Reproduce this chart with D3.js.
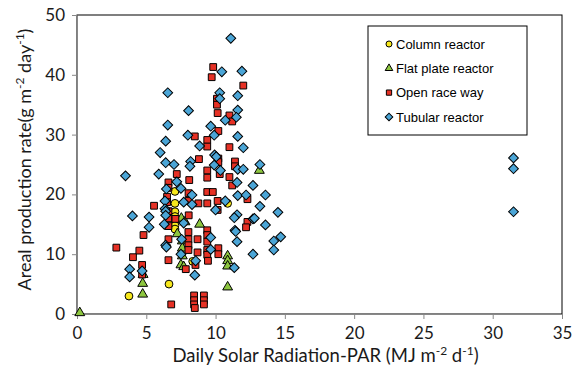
<!DOCTYPE html>
<html>
<head>
<meta charset="utf-8">
<script src="https://cdn.jsdelivr.net/npm/d3@7"></script>
<style>
  body { margin: 0; background: #fff; }
  .axis text { font-family: Lato, "Open Sans", sans-serif; font-size: 17px; fill: #1a1a1a; }
  .axis path, .axis line { stroke: #888; }
  .title { font-family: Lato, "Open Sans", sans-serif; fill: #1a1a1a; }
  .legend text { font-family: "Liberation Sans", Arial, sans-serif; font-size: 13px; fill: #000; }
</style>
</head>
<body>
<div id="chart"></div>
<script>
// series: [PAR, rate]
const columnReactor = [
  [7.07, 20.5], [7.07, 18.5], [7.07, 17.1], [7.07, 16.3], [7.07, 15.6], [7.07, 14.8],
  [7.07, 14.2], [6.64, 5.0], [3.75, 3.0], [8.35, 8.8], [10.87, 18.5]
];
const flatPlateReactor = [
  [0.2, 0.2], [4.74, 3.3], [4.74, 5.1], [4.77, 6.6], [7.53, 16.0], [7.8, 15.4], [8.85, 15.0],
  [7.24, 13.4], [7.6, 12.2], [7.6, 11.0], [7.6, 9.7], [7.5, 8.2], [7.7, 7.9],
  [10.87, 9.7], [10.87, 8.9], [10.87, 8.0], [10.87, 4.5], [13.16, 24.0]
];
const openRaceWay = [
  [9.83, 41.3], [9.72, 39.6], [12.0, 38.2], [10.1, 36.0], [10.1, 35.0], [10.15, 33.6],
  [11.0, 33.2], [11.2, 32.2], [10.2, 30.6], [8.5, 29.7], [9.4, 29.1], [9.4, 28.0],
  [11.0, 27.9], [8.8, 25.9], [10.2, 26.0], [10.2, 25.4], [11.4, 25.5], [11.4, 24.7],
  [7.2, 23.4], [9.4, 24.0], [9.4, 22.8], [10.3, 23.4], [11.0, 22.9], [11.2, 21.5],
  [6.6, 22.0], [8.1, 22.4], [6.6, 21.1], [6.5, 19.6], [6.5, 18.7], [8.05, 20.2],
  [8.05, 18.9], [9.4, 20.4], [9.8, 20.4], [8.76, 18.5], [9.4, 18.5], [10.15, 18.9],
  [10.15, 17.4], [5.56, 18.1], [8.06, 16.5], [12.3, 19.2], [12.3, 15.4], [12.2, 14.5],
  [9.4, 14.0], [9.4, 13.2], [9.4, 12.1], [8.04, 13.7], [8.04, 12.5], [8.7, 12.5],
  [6.6, 12.5], [6.6, 9.0], [8.7, 10.3], [9.4, 10.7], [9.4, 9.9], [9.45, 8.9],
  [10.2, 11.0], [10.2, 10.0], [7.85, 7.5], [8.55, 8.2], [8.45, 3.1], [8.45, 2.3],
  [8.45, 1.6], [8.5, 1.0], [9.16, 3.1], [9.16, 2.3], [9.16, 1.6], [6.8, 1.6],
  [6.6, 16.0], [7.1, 15.9], [6.6, 14.7], [8.04, 11.5], [8.04, 10.7], [2.84, 11.1],
  [4.04, 9.5], [4.5, 10.6], [4.8, 13.2], [4.7, 8.2], [4.7, 6.6], [6.6, 17.2]
];
const tubularReactor = [
  [11.1, 46.1], [10.45, 40.5], [11.9, 40.6], [6.55, 37.0], [10.3, 37.0], [11.6, 36.5],
  [10.3, 36.0], [8.05, 34.0], [11.6, 34.1], [10.7, 32.4], [11.5, 32.9], [6.55, 31.6],
  [9.65, 31.4], [8.0, 29.9], [9.9, 29.9], [6.4, 28.9], [11.6, 29.7], [8.85, 28.1],
  [12.0, 27.8], [6.0, 27.0], [6.4, 25.3], [7.0, 25.0], [8.2, 25.5], [8.15, 24.7],
  [9.93, 26.6], [10.05, 26.3], [9.9, 24.9], [10.35, 24.0], [11.6, 24.2], [12.0, 24.2],
  [13.2, 25.0], [5.9, 23.4], [7.2, 22.1], [7.5, 21.0], [6.45, 20.9], [11.55, 22.0],
  [12.7, 21.5], [13.6, 19.9], [8.3, 19.9], [11.6, 19.8], [12.2, 19.9], [10.7, 18.9],
  [7.7, 18.7], [6.35, 18.9], [8.3, 18.3], [13.2, 18.0], [14.5, 17.0], [10.0, 17.4],
  [11.55, 16.6], [11.35, 16.1], [12.7, 15.9], [13.6, 14.9], [7.7, 15.2], [11.4, 14.0],
  [11.45, 13.8], [11.55, 12.1], [14.7, 12.9], [14.2, 12.2], [14.2, 10.7], [12.7, 10.0],
  [9.65, 12.8], [9.65, 10.8], [7.55, 12.5], [6.4, 11.5], [6.45, 11.2], [7.5, 10.0],
  [8.56, 8.9], [8.5, 6.5], [11.35, 7.75], [6.35, 17.6], [6.4, 17.2], [6.4, 16.5],
  [6.3, 15.0], [5.2, 16.2], [5.2, 14.5], [4.0, 16.4], [3.5, 23.1], [3.8, 7.5],
  [3.8, 6.2], [4.7, 7.2], [12.8, 16.0], [31.5, 26.1], [31.5, 24.3], [31.5, 17.1]
];
const xTicks = [0, 5, 10, 15, 20, 25, 30, 35];
const yTicks = [0, 10, 20, 30, 40, 50];
const seriesNames = ['Column reactor', 'Flat plate reactor', 'Open race way', 'Tubular reactor'];

const width = 574, height = 373;
const margin = { top: 15, right: 12, bottom: 59, left: 77 };
const w = width - margin.left - margin.right;
const h = height - margin.top - margin.bottom;

const svg = d3.select('#chart').append('svg')
  .attr('width', width)
  .attr('height', height);

const chart = svg.append('g')
  .attr('transform', `translate(${margin.left},${margin.top})`);

const x = d3.scaleLinear().domain([0, 35]).range([0, w]);
const y = d3.scaleLinear().domain([0, 50]).range([h, 0]);

// plot frame
chart.append('rect')
  .attr('width', w).attr('height', h)
  .attr('fill', 'none').attr('stroke', '#000').attr('stroke-width', 1);

chart.append('g')
  .attr('class', 'x axis')
  .attr('transform', `translate(0,${h})`)
  .call(d3.axisBottom(x).tickValues(xTicks).tickSize(5).tickSizeOuter(0).tickPadding(5))
  .selectAll('text').attr('dy', '0.9em');

chart.append('g')
  .attr('class', 'y axis')
  .call(d3.axisLeft(y).tickValues(yTicks).tickSize(5).tickSizeOuter(0).tickPadding(7));

// marker styles
const series = [
  { name: seriesNames[0], data: columnReactor, type: d3.symbolCircle, size: 48, fill: '#F7E81C', rot: 0 },
  { name: seriesNames[1], data: flatPlateReactor, type: d3.symbolTriangle, size: 42, fill: '#8DC63F', rot: 0 },
  { name: seriesNames[2], data: openRaceWay, type: d3.symbolSquare, size: 46, fill: '#E63125', rot: 0 },
  { name: seriesNames[3], data: tubularReactor, type: d3.symbolSquare, size: 48, fill: '#4BA5D6', rot: 45 }
];

series.forEach(s => {
  chart.append('g').selectAll('path')
    .data(s.data)
    .enter()
    .append('path')
    .attr('d', d3.symbol().type(s.type).size(s.size))
    .attr('transform', d => `translate(${x(d[0])},${y(d[1])}) rotate(${s.rot})`)
    .attr('fill', s.fill)
    .attr('stroke', '#000')
    .attr('stroke-width', 1);
});

// legend
const legend = svg.append('g').attr('class', 'legend')
  .attr('transform', 'translate(368,26)');
legend.append('rect')
  .attr('width', 159).attr('height', 109)
  .attr('fill', '#fff').attr('stroke', '#000');
series.forEach((s, i) => {
  const row = legend.append('g').attr('transform', `translate(21,${18 + i * 24.3})`);
  row.append('path')
    .attr('d', d3.symbol().type(s.type).size(s.size * 0.6))
    .attr('transform', `rotate(${s.rot})`)
    .attr('fill', s.fill).attr('stroke', '#000');
  row.append('text').attr('x', 7).attr('dy', '0.36em').text(s.name);
});

// axis titles
const xt = svg.append('text').attr('class', 'title')
  .attr('font-size', '18.5px')
  .attr('x', margin.left + w / 2 + 6).attr('y', 362).attr('text-anchor', 'middle');
xt.append('tspan').text('Daily Solar Radiation-PAR (MJ m');
xt.append('tspan').attr('font-size', '12px').attr('dy', -7).text('-2');
xt.append('tspan').attr('dy', 7).text(' d');
xt.append('tspan').attr('font-size', '12px').attr('dy', -7).text('-1');
xt.append('tspan').attr('dy', 7).text(')');

const yt = svg.append('text').attr('class', 'title')
  .attr('font-size', '18px')
  .attr('transform', `translate(31,${margin.top + h / 2 - 5}) rotate(-90)`)
  .attr('text-anchor', 'middle');
yt.append('tspan').text('Areal production rate(g m');
yt.append('tspan').attr('font-size', '12px').attr('dy', -7).text('-2');
yt.append('tspan').attr('dy', 7).text(' day');
yt.append('tspan').attr('font-size', '12px').attr('dy', -7).text('-1');
yt.append('tspan').attr('dy', 7).text(')');
</script>
</body>
</html>
